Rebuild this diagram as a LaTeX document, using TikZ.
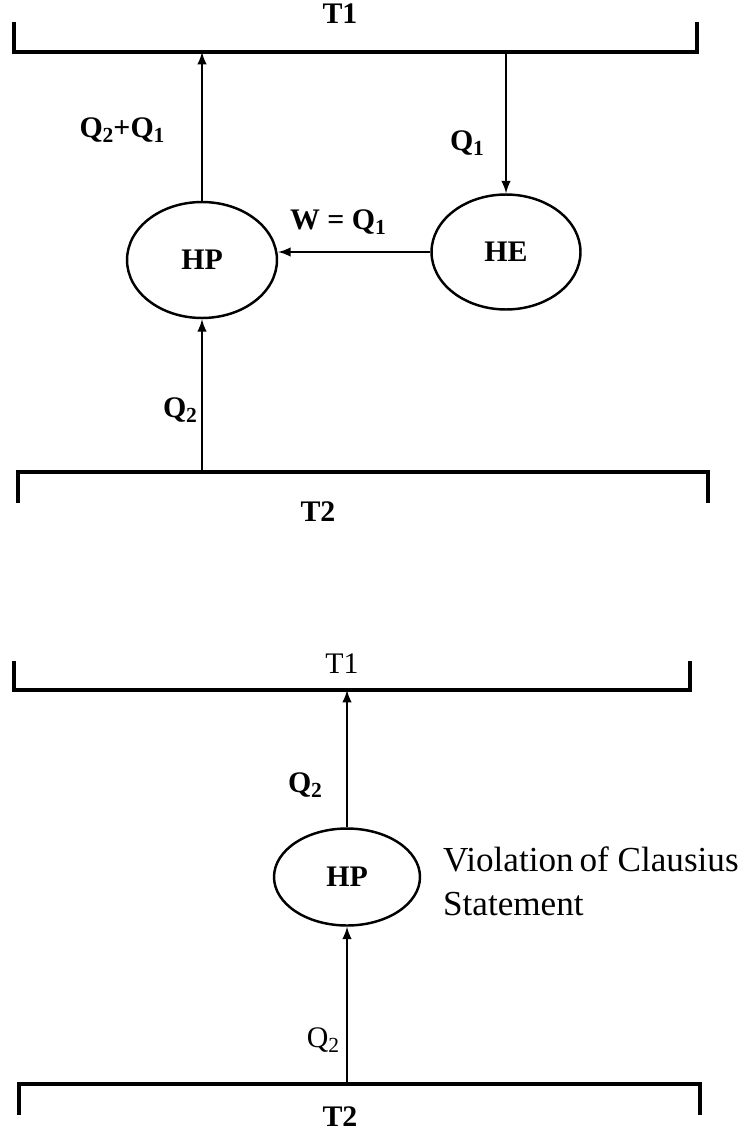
\documentclass[tikz,border=0pt]{standalone}
\usepackage{fontspec}
\setmainfont{Liberation Serif}
\usepackage{tikz}
\usetikzlibrary{positioning}
\usetikzlibrary{shapes.geometric,arrows}
\newcommand{\lowidx}[1]{\raisebox{-0.4ex}{\scalebox{0.72}{#1}}}

\begin{document}
\begin{tikzpicture}[x=0.02cm, y=-0.02cm, >=latex, line width=1.4pt,
    device/.style={ellipse, draw, inner sep=0pt, font=\fontsize{17}{19}\selectfont\bfseries},
    lbl/.style={font=\fontsize{17}{19}\selectfont\bfseries},
    reservoir/.style={line width=1.8pt}]
      \useasboundingbox (0,0) rectangle (744,1135);
      % upper picture: heat engine driving a heat pump
      \draw[reservoir] (14,22) -- (14,52) -- (697,52) -- (697,22);
      \draw[reservoir] (18,503) -- (18,472) -- (708,472) -- (708,503);
      \node[lbl] (hot1) at (340,14) {T1};
      \node[lbl] (cold1) at (318,512) {T2};
      \node[device, minimum width=3cm, minimum height=2.32cm] (hp1) at (202,260) {HP};
      \node[device, minimum width=2.98cm, minimum height=2.3cm] (he1) at (506,252) {HE};
      \coordinate (hp1top) at (202,52);
      \coordinate (he1top) at (506,52);
      \coordinate (hp1bot) at (202,472);
      \draw[->] (hp1) -- (hp1top);
      \draw[->] (he1top) -- (he1);
      \draw[->] (he1.west) -- (he1.west -| hp1.east);
      \draw[->] (hp1bot) -- (hp1);
      \node[lbl] (qsum) at (122,130) {Q\lowidx{2}+Q\lowidx{1}};
      \node[lbl] (q1) at (467,143) {Q\lowidx{1}};
      \node[lbl] (work) at (338,222) {W = Q\lowidx{1}};
      \node[lbl] (q2a) at (180,410) {Q\lowidx{2}};
      % lower picture: the heat pump alone
      \draw[reservoir] (14,661) -- (14,690) -- (690,690) -- (690,661);
      \draw[reservoir] (19,1115) -- (19,1084) -- (700,1084) -- (700,1115);
      \node[font=\fontsize{17}{19}\selectfont] (hot2) at (342,664) {T1};
      \node[lbl, inner sep=1pt] (cold2) at (340,1117) {T2};
      \node[device, minimum width=2.92cm, minimum height=1.94cm] (hp2) at (347,877) {HP};
      \coordinate (hp2top) at (347,690);
      \coordinate (hp2bot) at (347,1084);
      \draw[->] (hp2) -- (hp2top);
      \draw[->] (hp2bot) -- (hp2);
      \node[lbl] (q2b) at (305,785) {Q\lowidx{2}};
      \node[font=\fontsize{17}{19}\selectfont] (q2c) at (323,1040) {Q\lowidx{2}};
      \node[anchor=west, align=left, font=\fontsize{20}{25}\selectfont] (note) at (436,881)
        {Violation\,of Clausius\\Statement};
\end{tikzpicture}
\end{document}
